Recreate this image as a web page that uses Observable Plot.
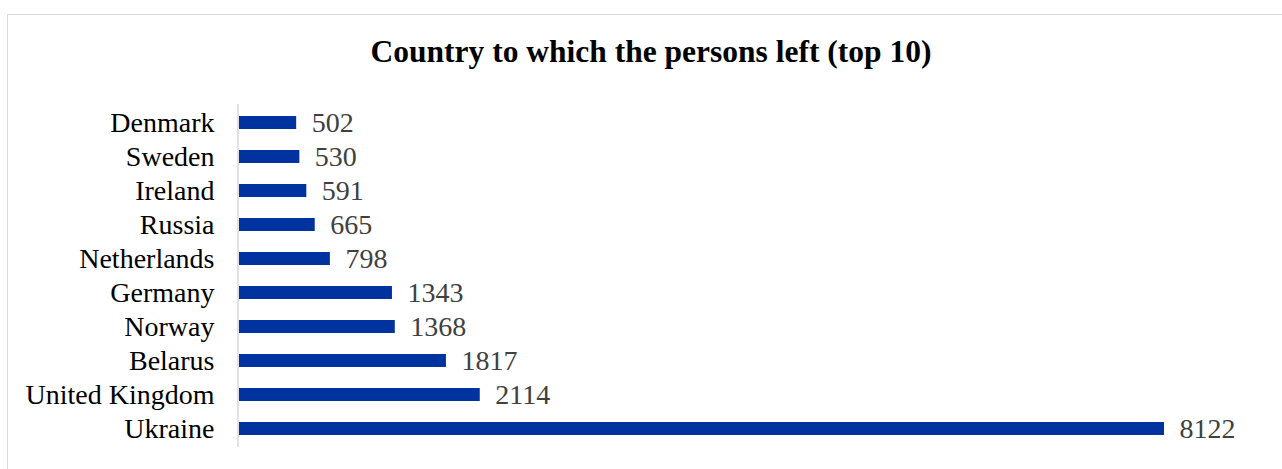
<!DOCTYPE html>
<html>
<head>
<meta charset="utf-8">
<script src="https://cdn.jsdelivr.net/npm/d3@7"></script>
<script src="https://cdn.jsdelivr.net/npm/@observablehq/plot@0.6"></script>
<style>
  html, body { margin: 0; padding: 0; background: #fff; }
  #wrap { position: relative; width: 1282px; height: 469px; overflow: hidden; }
  #border { position: absolute; left: 7px; top: 14px; width: 1300px; height: 500px; border: 1.5px solid #d9d9d9; box-sizing: border-box; }
  #title { position: absolute; left: 0; top: 36px; width: 1302px; text-align: center; line-height: 1;
           font-family: "Liberation Serif", "Times New Roman", serif; font-weight: bold; font-size: 31.5px; color: #000; }
  #chart { position: absolute; left: 0; top: 0; }
</style>
</head>
<body>
<div id="wrap">
  <div id="border"></div>
  <div id="title">Country to which the persons left (top 10)</div>
  <div id="chart"></div>
</div>
<script>
const countries = ["Denmark", "Sweden", "Ireland", "Russia", "Netherlands", "Germany", "Norway", "Belarus", "United Kingdom", "Ukraine"];
const values = [502, 530, 591, 665, 798, 1343, 1368, 1817, 2114, 8122];

const data = countries.map((c, i) => ({country: c, value: values[i]}));

const chart = Plot.plot({
  width: 1282,
  height: 469,
  marginTop: 104,
  marginBottom: 22,
  marginLeft: 239,
  marginRight: 118,
  style: {background: "transparent", fontFamily: "'Liberation Serif', 'Times New Roman', serif"},
  x: {domain: [0, 8122], axis: null},
  y: {domain: countries, paddingInner: 0.61, paddingOuter: 0.305, axis: null},
  marks: [
    Plot.barX(data, {x: "value", y: "country", fill: "#0033a0"}),
    Plot.ruleX([0], {stroke: "#d9d9d9", strokeWidth: 1.5, dx: -1.5}),
    Plot.axisY({tickSize: 0, tickPadding: 25, fontSize: 28, label: null, fill: "#000"}),
    Plot.text(data, {x: "value", y: "country", text: d => String(d.value), textAnchor: "start", dx: 15,
                     fill: "#404040", fontSize: 28})
  ]
});
document.getElementById("chart").appendChild(chart);
</script>
</body>
</html>
